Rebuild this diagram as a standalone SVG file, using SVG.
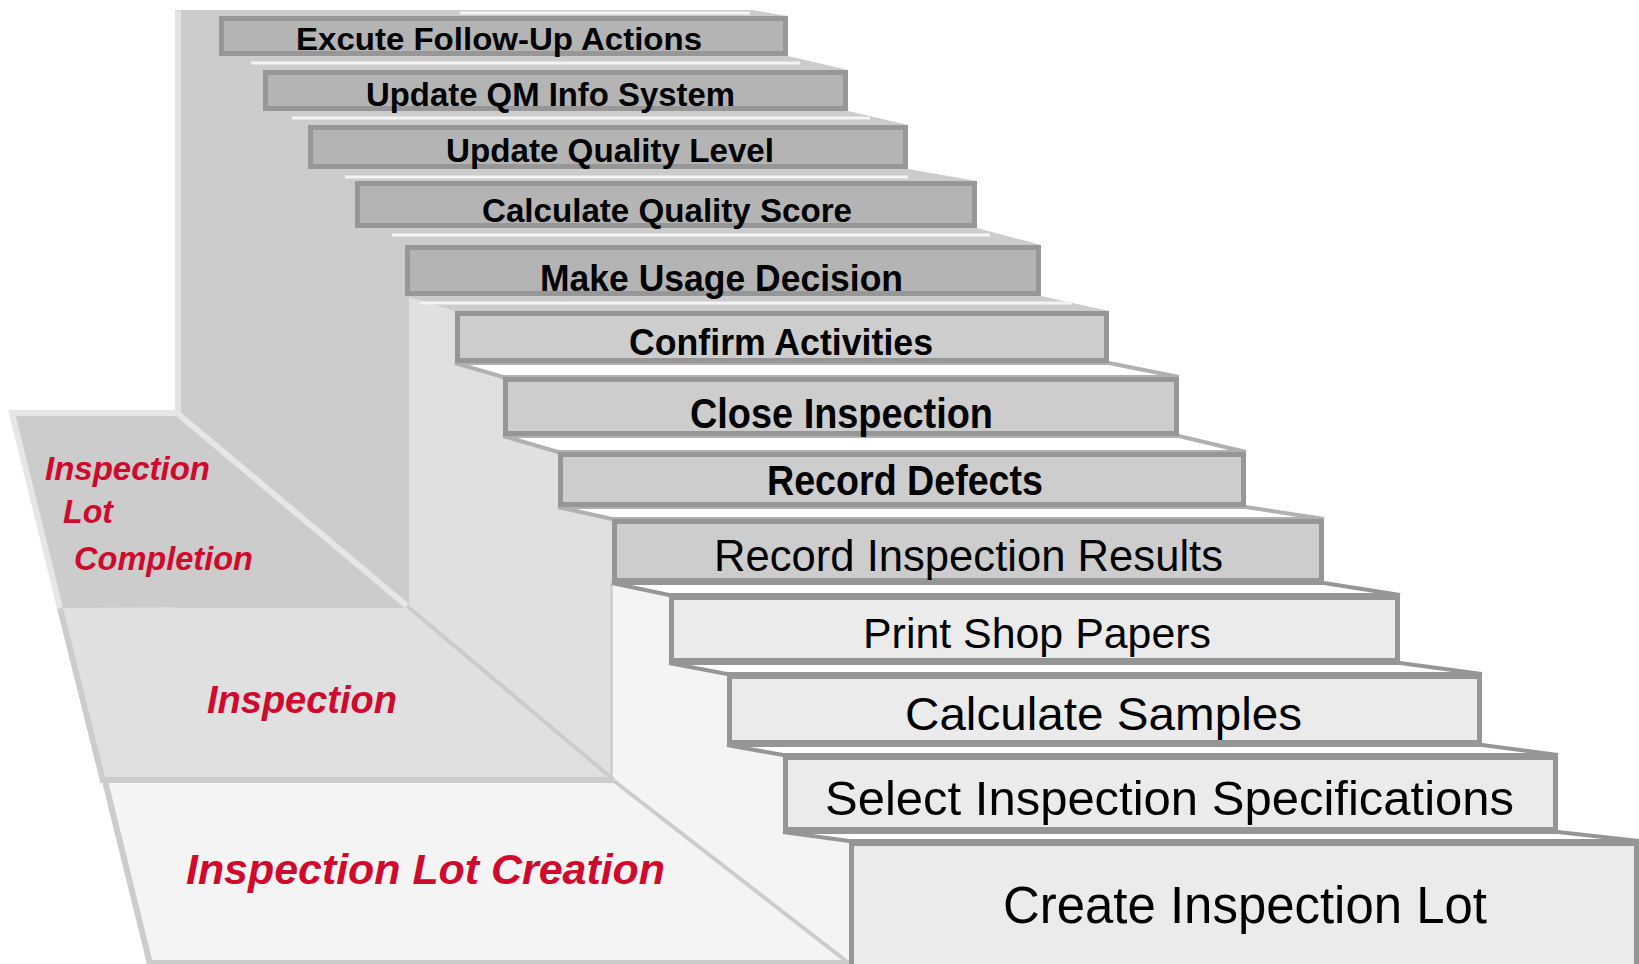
<svg xmlns="http://www.w3.org/2000/svg" width="1639" height="964" viewBox="0 0 1639 964">
<style>
.t{font-family:"Liberation Sans",Arial,sans-serif;fill:#000}
.b{font-weight:bold}
.ph{font-family:"Liberation Sans",Arial,sans-serif;font-weight:bold;font-style:italic;fill:#cf0a2c}
.bx1{fill:#b4b4b4;stroke:#979797;stroke-width:5}
.bx2{fill:#cdcdcd;stroke:#969696;stroke-width:5}
.bx3{fill:#ebebeb;stroke:#969696;stroke-width:5}
.tr1{fill:#cccccc}
.tr2{fill:#ffffff;stroke:#b0b0b0;stroke-width:4;stroke-linejoin:miter}
.tr3{fill:#ffffff;stroke:#969696;stroke-width:4;stroke-linejoin:miter}
.hl{stroke:#f4f4f4;stroke-width:3}
</style>
<rect width="1639" height="964" fill="#ffffff"/>
<!-- back walls -->
<g id="walls">
<rect x="175" y="10" width="236" height="598" fill="#cccccc"/>
<rect x="175" y="10" width="6" height="405" fill="#e3e3e3"/>
<rect x="409" y="296" width="206" height="486" fill="#e0e0e0"/>
<rect x="610" y="583" width="6" height="196" fill="#d0d0d0"/>
<rect x="613" y="583" width="240" height="381" fill="#f4f4f4"/>
</g>
<!-- side panels -->
<g id="phase-completion">
<polygon points="12,415 177,415 407,607 60,608" fill="#cccccc"/>
<polyline points="60,608 12,413 177,413" fill="none" stroke="#e6e6e6" stroke-width="6"/>
<line x1="177" y1="413" x2="407" y2="606" stroke="#e6e6e6" stroke-width="6"/>
<text class="ph" x="45" y="480" font-size="34" textLength="165" lengthAdjust="spacingAndGlyphs">Inspection</text>
<text class="ph" x="63" y="523" font-size="34" textLength="50" lengthAdjust="spacingAndGlyphs">Lot</text>
<text class="ph" x="74" y="570" font-size="34" textLength="179" lengthAdjust="spacingAndGlyphs">Completion</text>
</g>
<g id="phase-inspection">
<polygon points="60,608 409,608 613,781 103,781" fill="#e0e0e0"/>
<line x1="60" y1="608" x2="103" y2="781" stroke="#cccccc" stroke-width="6"/>
<line x1="407" y1="606" x2="614" y2="780" stroke="#cccccc" stroke-width="4"/>
<line x1="100" y1="780" x2="614" y2="780" stroke="#cccccc" stroke-width="6"/>
<text class="ph" x="207" y="713" font-size="38" textLength="190" lengthAdjust="spacingAndGlyphs">Inspection</text>
</g>
<g id="phase-creation">
<polygon points="103,783 613,783 849,964 149,964" fill="#f4f4f4"/>
<line x1="105" y1="781" x2="150" y2="964" stroke="#cccccc" stroke-width="6"/>
<line x1="614" y1="781" x2="850" y2="964" stroke="#cccccc" stroke-width="4"/>
<line x1="149" y1="962" x2="850" y2="962" stroke="#cccccc" stroke-width="4"/>
<text class="ph" x="186" y="884" font-size="43" textLength="479" lengthAdjust="spacingAndGlyphs">Inspection Lot Creation</text>
</g>
<!-- treads -->
<g id="treads">
<polygon class="tr1" points="175,10 752,10 788,16 219,16"/>
<line class="hl" x1="460" y1="13" x2="750" y2="13"/>
<polygon class="tr1" points="219,56 788,56 848,70 263,70"/>
<line class="hl" x1="251" y1="63" x2="800" y2="63"/>
<polygon class="tr1" points="263,111 848,111 908,125 308,125"/>
<line class="hl" x1="292" y1="118" x2="870" y2="118"/>
<polygon class="tr1" points="308,169 908,169 977,181 355,181"/>
<line class="hl" x1="345" y1="177" x2="908" y2="177"/>
<polygon class="tr1" points="355,228 977,228 1041,245 405,245"/>
<line class="hl" x1="392" y1="235" x2="990" y2="235"/>
<polygon class="tr1" points="405,296 1041,296 1109,311 455,311"/>
<line class="hl" x1="420" y1="303" x2="1072" y2="303"/>
<polygon class="tr2" points="455,363 1109,363 1179,377 503,377"/>
<polygon class="tr2" points="503,436 1179,436 1246,452 558,452"/>
<polygon class="tr2" points="558,507 1246,507 1324,519 612,519"/>
<polygon class="tr3" points="612,583 1324,583 1400,595 669,595"/>
<polygon class="tr3" points="669,663 1400,663 1482,674 727,674"/>
<polygon class="tr3" points="727,745 1482,745 1558,755 783,755"/>
<polygon class="tr3" points="783,832 1558,832 1639,841 849,841"/>
</g>
<!-- steps -->
<g id="step-followup">
<rect class="bx1" x="221.5" y="18.5" width="564" height="35"/>
<text class="t b" x="296" y="50" font-size="31" textLength="406" lengthAdjust="spacingAndGlyphs">Excute Follow-Up Actions</text>
</g>
<g id="step-qm-info">
<rect class="bx1" x="265.5" y="72.5" width="580" height="36"/>
<text class="t b" x="366" y="106" font-size="33" textLength="369" lengthAdjust="spacingAndGlyphs">Update QM Info System</text>
</g>
<g id="step-quality-level">
<rect class="bx1" x="310.5" y="127.5" width="595" height="39"/>
<text class="t b" x="446" y="162" font-size="34" textLength="328" lengthAdjust="spacingAndGlyphs">Update Quality Level</text>
</g>
<g id="step-quality-score">
<rect class="bx1" x="357.5" y="183.5" width="617" height="42"/>
<text class="t b" x="482" y="222" font-size="34" textLength="370" lengthAdjust="spacingAndGlyphs">Calculate Quality Score</text>
</g>
<g id="step-usage-decision">
<rect class="bx1" x="407.5" y="247.5" width="631" height="46"/>
<text class="t b" x="540" y="291" font-size="37" textLength="363" lengthAdjust="spacingAndGlyphs">Make Usage Decision</text>
</g>
<g id="step-confirm">
<rect class="bx2" x="457.5" y="313.5" width="649" height="47"/>
<text class="t b" x="629" y="355" font-size="37" textLength="304" lengthAdjust="spacingAndGlyphs">Confirm Activities</text>
</g>
<g id="step-close">
<rect class="bx2" x="505.5" y="379.5" width="671" height="54"/>
<text class="t b" x="690" y="428" font-size="43" textLength="303" lengthAdjust="spacingAndGlyphs">Close Inspection</text>
</g>
<g id="step-defects">
<rect class="bx2" x="560.5" y="454.5" width="683" height="50"/>
<text class="t b" x="767" y="495" font-size="43" textLength="276" lengthAdjust="spacingAndGlyphs">Record Defects</text>
</g>
<g id="step-results">
<rect class="bx2" x="614.5" y="521.5" width="707" height="59"/>
<text class="t" x="714" y="571" font-size="45" textLength="509" lengthAdjust="spacingAndGlyphs">Record Inspection Results</text>
</g>
<g id="step-shop-papers">
<rect class="bx3" x="671.5" y="597.5" width="726" height="63"/>
<text class="t" x="863" y="648" font-size="43" textLength="348" lengthAdjust="spacingAndGlyphs">Print Shop Papers</text>
</g>
<g id="step-samples">
<rect class="bx3" x="729.5" y="676.5" width="750" height="66"/>
<text class="t" x="905" y="730" font-size="47" textLength="397" lengthAdjust="spacingAndGlyphs">Calculate Samples</text>
</g>
<g id="step-specs">
<rect class="bx3" x="785.5" y="757.5" width="770" height="72"/>
<text class="t" x="825" y="815" font-size="48" textLength="689" lengthAdjust="spacingAndGlyphs">Select Inspection Specifications</text>
</g>
<g id="step-create-lot">
<rect class="bx3" x="851.5" y="843.5" width="785" height="125"/>
<text class="t" x="1003" y="923" font-size="51" textLength="484" lengthAdjust="spacingAndGlyphs">Create Inspection Lot</text>
</g>
</svg>
